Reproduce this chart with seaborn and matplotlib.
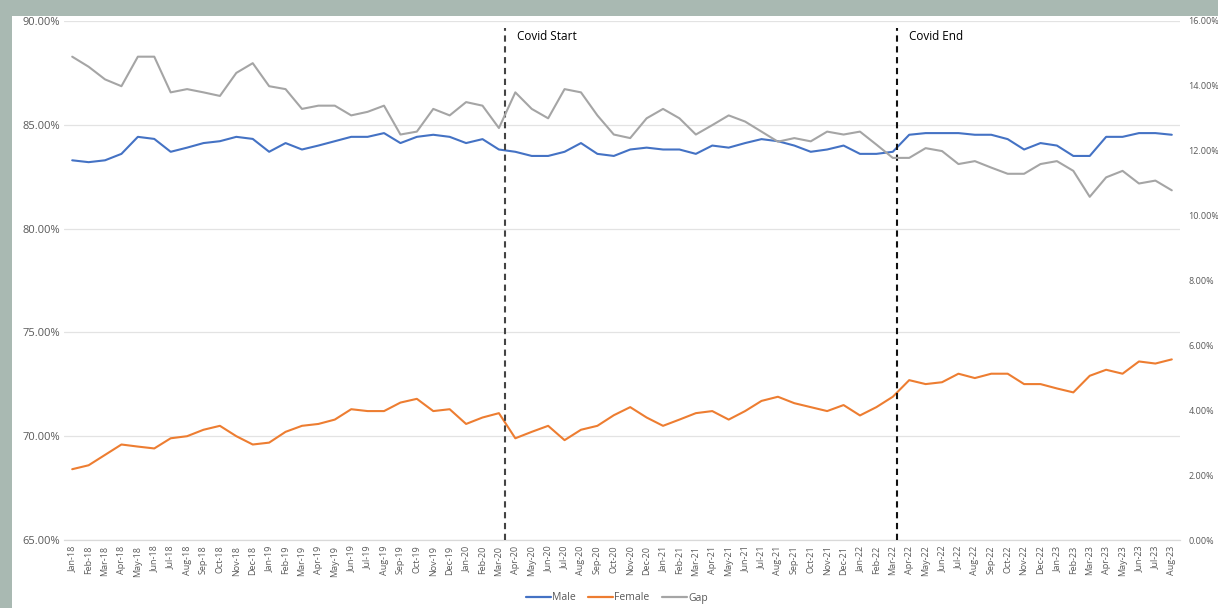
import matplotlib
matplotlib.use("Agg")
import matplotlib.pyplot as plt
import matplotlib.patches as mpatches
from matplotlib.lines import Line2D
from matplotlib.ticker import FuncFormatter, MultipleLocator
import seaborn as sns
import pandas as pd
import numpy as np

months = ["Jan-18","Feb-18","Mar-18","Apr-18","May-18","Jun-18","Jul-18","Aug-18","Sep-18","Oct-18","Nov-18","Dec-18",
          "Jan-19","Feb-19","Mar-19","Apr-19","May-19","Jun-19","Jul-19","Aug-19","Sep-19","Oct-19","Nov-19","Dec-19",
          "Jan-20","Feb-20","Mar-20","Apr-20","May-20","Jun-20","Jul-20","Aug-20","Sep-20","Oct-20","Nov-20","Dec-20",
          "Jan-21","Feb-21","Mar-21","Apr-21","May-21","Jun-21","Jul-21","Aug-21","Sep-21","Oct-21","Nov-21","Dec-21",
          "Jan-22","Feb-22","Mar-22","Apr-22","May-22","Jun-22","Jul-22","Aug-22","Sep-22","Oct-22","Nov-22","Dec-22",
          "Jan-23","Feb-23","Mar-23","Apr-23","May-23","Jun-23","Jul-23","Aug-23"]

male = [83.29, 83.20, 83.29, 83.60, 84.42, 84.32, 83.70, 83.90, 84.12, 84.21, 84.42, 84.32,
        83.70, 84.12, 83.81, 84.00, 84.21, 84.42, 84.42, 84.60, 84.12, 84.42, 84.52, 84.42,
        84.12, 84.31, 83.81, 83.70, 83.50, 83.50, 83.70, 84.12, 83.60, 83.50, 83.81, 83.90,
        83.81, 83.81, 83.60, 84.00, 83.90, 84.12, 84.31, 84.21, 84.00, 83.70, 83.81, 84.00,
        83.60, 83.60, 83.70, 84.52, 84.60, 84.60, 84.60, 84.52, 84.52, 84.31, 83.81, 84.12,
        84.00, 83.50, 83.50, 84.42, 84.42, 84.60, 84.60, 84.52]

female = [68.41, 68.60, 69.10, 69.60, 69.50, 69.41, 69.90, 70.00, 70.31, 70.50, 70.00, 69.60,
          69.69, 70.21, 70.50, 70.59, 70.80, 71.30, 71.21, 71.21, 71.62, 71.80, 71.21, 71.30,
          70.59, 70.90, 71.11, 69.90, 70.21, 70.50, 69.81, 70.31, 70.50, 71.01, 71.40, 70.90,
          70.50, 70.80, 71.11, 71.21, 70.80, 71.21, 71.70, 71.90, 71.59, 71.40, 71.21, 71.50,
          71.00, 71.40, 71.90, 72.70, 72.51, 72.60, 73.01, 72.80, 73.01, 73.01, 72.51, 72.51,
          72.30, 72.11, 72.91, 73.20, 73.01, 73.60, 73.50, 73.70]

gap = [14.90, 14.59, 14.20, 13.99, 14.90, 14.90, 13.80, 13.90, 13.80, 13.69, 14.40, 14.70,
       13.99, 13.90, 13.29, 13.39, 13.39, 13.09, 13.20, 13.39, 12.50, 12.59, 13.29, 13.09,
       13.50, 13.39, 12.70, 13.80, 13.29, 13.00, 13.90, 13.80, 13.09, 12.50, 12.39, 13.00,
       13.29, 13.00, 12.50, 12.79, 13.09, 12.90, 12.59, 12.28, 12.39, 12.29, 12.59, 12.50,
       12.59, 12.19, 11.78, 11.78, 12.08, 11.99, 11.59, 11.68, 11.48, 11.29, 11.29, 11.59,
       11.68, 11.38, 10.58, 11.18, 11.38, 10.99, 11.08, 10.78]

events = ["Covid Start", "Covid End"]
event_pos = [26.38, 50.26]

series_names = ["Male", "Female", "Gap"]
colors = {"Male": "#4472C4", "Female": "#ED7D31", "Gap": "#A5A5A5"}

sns.set_theme(style="white")
plt.rcParams['font.family'] = ['Open Sans', 'DejaVu Sans']

df = pd.DataFrame({"idx": np.arange(len(months)), "month": months,
                   "Male": male, "Female": female, "Gap": gap})

fig = plt.figure(figsize=(12.18, 6.08), dpi=100)
fig.patch.set_facecolor("white")
# grey frame (top and left bands)
fig.add_artist(mpatches.Rectangle((0, 1 - 16/608), 1, 16/608, transform=fig.transFigure,
                                  facecolor="#A9B9B2", edgecolor="none", zorder=0))
fig.add_artist(mpatches.Rectangle((0, 0), 12/1218, 1, transform=fig.transFigure,
                                  facecolor="#A9B9B2", edgecolor="none", zorder=0))

ax = fig.add_axes([64/1218, 1 - 540/608, (1180 - 64)/1218, (540 - 21)/608])
ax.set_facecolor("none")
ax2 = ax.twinx()

sns.lineplot(data=df, x="idx", y="Male", ax=ax, color=colors["Male"], linewidth=1.5, zorder=3)
sns.lineplot(data=df, x="idx", y="Female", ax=ax, color=colors["Female"], linewidth=1.5, zorder=3)
sns.lineplot(data=df, x="idx", y="Gap", ax=ax2, color=colors["Gap"], linewidth=1.5, zorder=3)

ax.set_xlim(-0.5, len(months) - 0.5)
ax.set_ylim(65, 90)
ax2.set_ylim(0, 16)
ax.yaxis.set_major_locator(MultipleLocator(5))
ax2.yaxis.set_major_locator(MultipleLocator(2))
ax.yaxis.set_major_formatter(FuncFormatter(lambda v, p: f"{v:.2f}%"))
ax2.yaxis.set_major_formatter(FuncFormatter(lambda v, p: f"{v:.2f}%"))

ax.set_xticks(np.arange(len(months)))
ax.set_xticklabels(months, rotation=90, fontsize=6.5, color="#595959")
ax.set_xticks(np.arange(-0.5, len(months), 1), minor=True)
ax.tick_params(axis="x", which="major", length=0, pad=4)
ax.tick_params(axis="x", which="minor", length=4, color="#D9D9D9", width=0.8)
ax.tick_params(axis="y", length=0, labelsize=8, labelcolor="#595959", pad=3)
ax2.tick_params(axis="y", length=0, labelsize=6.5, labelcolor="#595959", pad=6)

ax.grid(axis="y", color="#E3E3E3", linewidth=0.9)
ax.set_axisbelow(True)
for s in ["top", "left", "right"]:
    ax.spines[s].set_visible(False)
    ax2.spines[s].set_visible(False)
ax.spines["bottom"].set_color("#D9D9D9")
ax.spines["bottom"].set_linewidth(0.9)
ax2.spines["bottom"].set_visible(False)
ax.set_xlabel("")
ax.set_ylabel("")
ax2.set_xlabel("")
ax2.set_ylabel("")

# event lines
line_colors = ["#444444", "#111111"]
for name, pos, lc in zip(events, event_pos, line_colors):
    ax.plot([pos, pos], [65, 89.65], linestyle=(0, (3, 2.2)), color=lc, linewidth=1.5, zorder=4,
            clip_on=False)
    ax.text(pos + 0.7, 89.25, name, fontsize=8.5, color="black", va="center", ha="left", zorder=5)

handles = [Line2D([0], [0], color=colors[n], linewidth=1.6) for n in series_names]
fig.legend(handles, series_names, loc="center", bbox_to_anchor=(617/1218, 1 - 598/608), ncol=3,
           frameon=False, fontsize=7.5, handlelength=2.4, handletextpad=0.1, columnspacing=1.2,
           labelcolor="#595959")

fig.savefig("out.png", dpi=100)
